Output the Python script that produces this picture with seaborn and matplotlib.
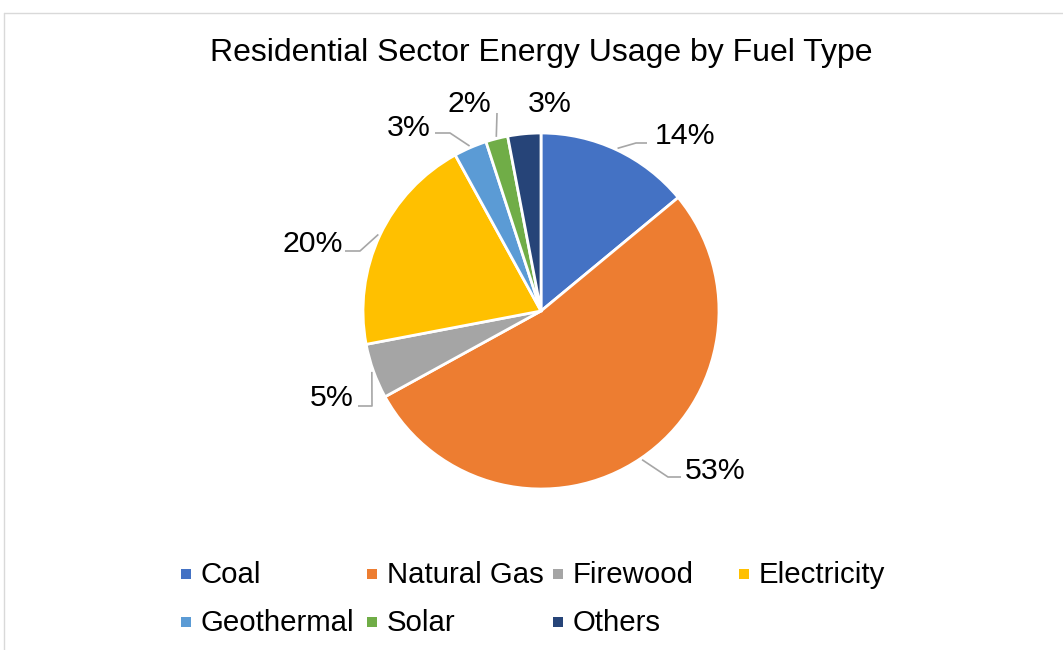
import matplotlib
matplotlib.use("Agg")
import matplotlib.pyplot as plt
from matplotlib.patches import Rectangle
from matplotlib.lines import Line2D
import seaborn as sns
import numpy as np

# ---- data ----
categories = ["Coal", "Natural Gas", "Firewood", "Electricity", "Geothermal", "Solar", "Others"]
shares = [14, 53, 5, 20, 3, 2, 3]
pct_labels = ["14%", "53%", "5%", "20%", "3%", "2%", "3%"]
title = "Residential Sector Energy Usage by Fuel Type"

colors = ["#4472C4", "#ED7D31", "#A5A5A5", "#FFC000", "#5B9BD5", "#70AD47", "#264478"]

sns.set_theme(style="white")
plt.rcParams["font.family"] = ["Liberation Sans", "DejaVu Sans"]
palette = sns.color_palette(colors)

W, H = 1063, 650
CX, CY, R = 541, 311, 178  # pie centre / radius in pixels


def px(x, y):
    """pixel -> data coordinates (axes span the full figure, 1 unit = radius)"""
    return (x - CX) / R, (CY - y) / R


fig = plt.figure(figsize=(W / 100, H / 100), dpi=100)
ax = fig.add_axes([0, 0, 1, 1])
wedges, _ = ax.pie(shares, colors=palette, startangle=90, counterclock=False,
                   radius=1, wedgeprops=dict(edgecolor="white", linewidth=2.0))
ax.set_xlim(-CX / R, (W - CX) / R)
ax.set_ylim(-(H - CY) / R, CY / R)
ax.set_aspect("auto")
ax.axis("off")

# ---- data labels with leader lines (layout) ----
# (text pixel pos, ha, elbow pixel, stub-end pixel or None)
label_layout = [
    ((655, 136), "left", (636, 143), (647, 143)),
    ((685, 471), "left", (668, 477), (681, 477)),
    ((354, 398), "right", (372, 406), (358, 406)),
    ((343, 244), "right", (360, 251), (345, 251)),
    ((431, 128), "right", (450, 133), (435, 133)),
    ((469, 104), "center", (497, 113), None),
    ((550, 104), "center", None, None),
]
lead_color = "#A6A6A6"
for w, lab, (tpos, ha, elbow, stub) in zip(wedges, pct_labels, label_layout):
    tx, ty = px(*tpos)
    ax.text(tx, ty, lab, ha=ha, va="center", fontsize=21.8, color="black")
    if elbow is not None:
        mid = np.deg2rad((w.theta1 + w.theta2) / 2)
        sx, sy = 1.01 * np.cos(mid), 1.01 * np.sin(mid)
        ex, ey = px(*elbow)
        xs, ys = [sx, ex], [sy, ey]
        if stub is not None:
            bx, by = px(*stub)
            xs.append(bx)
            ys.append(by)
        ax.plot(xs, ys, color=lead_color, lw=1.2, solid_capstyle="butt")

# ---- title ----
tx, ty = px(541, 53)
ax.text(tx, ty, title, ha="center", va="center", fontsize=23, color="black")

# ---- legend (Excel-like equal-width columns) ----
leg_x0, leg_dx = 186, 186
leg_rows = [575, 623]
msize = 10 / R
for i, (cat, col) in enumerate(zip(categories, palette)):
    row, c = divmod(i, 4)
    mx, my = px(leg_x0 + c * leg_dx, leg_rows[row] - 1)
    ax.add_patch(Rectangle((mx - msize / 2, my - msize / 2), msize, msize,
                           facecolor=col, edgecolor="none"))
    lx, ly = px(leg_x0 + c * leg_dx + 15, leg_rows[row])
    ax.text(lx, ly, cat, ha="left", va="center", fontsize=21.2, color="black")

# ---- chart border (top & left visible) ----
bc = "#D9D9D9"
fig.add_artist(Line2D([3.5 / W, 1], [1 - 12.5 / H, 1 - 12.5 / H], color=bc, lw=1,
                      transform=fig.transFigure))
fig.add_artist(Line2D([3.5 / W, 3.5 / W], [0, 1 - 12.5 / H], color=bc, lw=1,
                      transform=fig.transFigure))

fig.savefig("out.png", dpi=100, facecolor="white")
